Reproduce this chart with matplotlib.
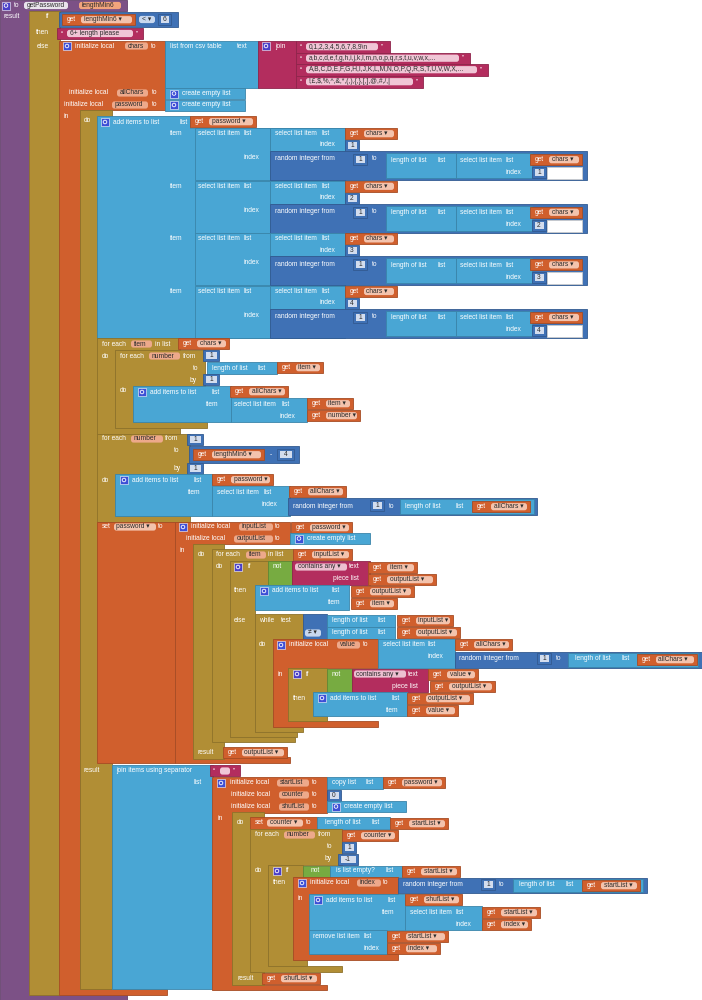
import matplotlib.pyplot as plt
import matplotlib.colors as mcolors
from matplotlib.patches import Rectangle, FancyBboxPatch, Polygon, Circle

# text shown on the blocks
proc_name = "getPassword"
param = "lengthMin6"
min_length = "6"
short_msg = "6+ length please"
csv_rows = ["0,1,2,3,4,5,6,7,8,9\\n",
            "a,b,c,d,e,f,g,h,i,j,k,l,m,n,o,p,q,r,s,t,u,v,w,x,...",
            "A,B,C,D,E,F,G,H,I,J,K,L,M,N,O,P,Q,R,S,T,U,V,W,X,...",
            "!,£,$,%,^,&,*,(,),{,},[,],@,#,/,|"]
char_groups = ["1", "2", "3", "4"]
extra_count = "4"
step_down = "-1"

# block colours
PURPLE = "#7c5186"
OLIVE = "#b18e35"
ORANGE = "#d05f2d"
LBLUE = "#49a6d4"
DBLUE = "#3f71b5"
MAGENTA = "#b32d5e"
GREEN = "#77ab41"
NAMEPILL = "#eda98b"
GETPILL = "#f3c3ad"
NUMPILL = "#d3ddee"
CMP = "#c9d8ee"
STRPILL = "#f0c6d6"
CONTPILL = "#ecbfd0"

FS = 4.8
FONT = ["Liberation Sans", "DejaVu Sans"]

fig = plt.figure(figsize=(7.02, 10), dpi=100)
ax = fig.add_axes([0, 0, 1, 1])
ax.set_xlim(0, 702)
ax.set_ylim(1000, 0)
ax.axis("off")


def dark(c, f=0.8):
    r, g, b = mcolors.to_rgb(c)
    return (r * f, g * f, b * f)


def box(x0, y0, x1, y1, c, lw=0.6):
    ax.add_patch(Rectangle((x0, y0), x1 - x0, y1 - y0, fc=c, ec=dark(c), lw=lw))


def cblock(x0, y0, xt, yt, xc, yb, xb, y1, c):
    pts = [(x0, y0), (xt, y0), (xt, yt), (xc, yt), (xc, yb), (xb, yb), (xb, y1), (x0, y1)]
    ax.add_patch(Polygon(pts, closed=True, fc=c, ec=dark(c), lw=0.6))


def txt(x, y, s, c="white", ha="left"):
    ax.text(x, y, s, fontsize=FS, color=c, va="center", ha=ha, family=FONT)


def pill(x0, x1, y, s, fc=NAMEPILL, tc="#2b2b2b"):
    ax.add_patch(FancyBboxPatch((x0, y - 3.6), x1 - x0, 7.2,
                                boxstyle="round,pad=0,rounding_size=2.5", fc=fc, ec="none"))
    if s:
        txt(x0 + 2.5, y, s, c=tc)


def gear(x, y, c="#3d4fd6"):
    ax.add_patch(Rectangle((x, y - 4), 8, 8, fc=c, ec="white", lw=0.4))
    ax.add_patch(Circle((x + 4, y), 1.8, fc="none", ec="white", lw=0.6))


def get(x0, y0, x1, name):
    box(x0, y0, x1, y0 + 11, ORANGE)
    txt(x0 + 5, y0 + 5.7, "get")
    pill(x0 + 19, x1 - 3, y0 + 5.7, name + " \u25be", GETPILL)


def num(x0, y0, s, w=14):
    box(x0, y0, x0 + w, y0 + 11, DBLUE)
    ax.add_patch(Rectangle((x0 + 2.5, y0 + 2), w - 5, 7, fc=NUMPILL, ec="none"))
    txt(x0 + w / 2, y0 + 5.7, s, c="#2b2b2b", ha="center")


def cel(x0, y0, x1):
    box(x0, y0, x1, y0 + 11, LBLUE)
    gear(x0 + 5, y0 + 5.5)
    txt(x0 + 17, y0 + 5.5, "create empty list")


# procedure
cblock(0, 0, 127, 11, 30, 994, 127, 1000, PURPLE)
gear(2, 5.5, "#4a3fc8")
txt(14, 5.5, "to")
pill(24, 68, 5.5, proc_name, "#e9e4ec")
pill(79, 121, 5.5, param, "#f2a47c")
txt(4, 17, "result")

# if / then / else
box(29, 11, 60, 995, OLIVE)
txt(45, 17, "if")
txt(36, 33, "then")
txt(37, 46, "else")
box(59, 12, 178, 27, DBLUE)
get(62, 14, 135, param)
pill(139, 155, 19.5, "< \u25be", CMP)
num(158, 14, min_length, w=13)
box(57, 28, 143, 39, MAGENTA)
txt(61, 33.5, "\u201c")
pill(67, 133, 33.5, short_msg, STRPILL)
txt(136, 33.5, "\u201d")

# initialize local chars / allChars / password
cblock(59, 41, 165, 110, 80, 989, 167, 995, ORANGE)
gear(63, 46)
txt(75, 46, "initialize local")
pill(125, 148, 46, "chars")
txt(151, 46, "to")
box(165, 41, 258, 88, LBLUE)
txt(170, 46, "list from csv table")
txt(237, 46, "text")
box(258, 41, 296, 88, MAGENTA)
gear(262, 46, "#4a3fc8")
txt(275, 46, "join")
row_tops = [41, 52.5, 64, 76]
row_right = [390, 470, 488, 423]
pill_right = [378, 459, 477, 413]
for i, s in enumerate(csv_rows):
    y0 = row_tops[i]
    box(296, y0, row_right[i], y0 + 11.5, MAGENTA)
    txt(300, y0 + 5.7, "\u201c")
    pill(306, pill_right[i], y0 + 5.7, s, STRPILL)
    txt(pill_right[i] + 3, y0 + 5.7, "\u201d")
txt(69, 93, "initialize local")
pill(117, 148, 93, "allChars")
txt(152, 93, "to")
cel(165, 88, 245)
txt(64, 105, "initialize local")
pill(112, 148, 105, "password")
txt(152, 105, "to")
cel(165, 99.5, 245)
txt(64, 116, "in")

# do / result
box(80, 110, 112, 989, OLIVE)
txt(84, 121, "do")
txt(84, 771, "result")

# add items to list password (four random characters)
ax.add_patch(Polygon([(97, 116), (190, 116), (190, 128), (345, 128), (345, 338), (97, 338)],
                     closed=True, fc=LBLUE, ec=dark(LBLUE), lw=0.6))
gear(101, 122)
txt(113, 122, "add items to list")
txt(180, 122, "list")
get(190, 116, 256, "password")
for k, g in enumerate(char_groups):
    y0 = 128 + 52.6 * k
    txt(170, y0 + 5.5, "item")
    box(195, y0, 270, y0 + 52, LBLUE)
    txt(198, y0 + 5.5, "select list item")
    txt(244, y0 + 5.5, "list")
    txt(243, y0 + 29.5, "index")
    box(270, y0, 345, y0 + 23, LBLUE)
    txt(275, y0 + 5.5, "select list item")
    txt(321, y0 + 5.5, "list")
    txt(320, y0 + 17, "index")
    get(345, y0, 397, "chars")
    num(345, y0 + 12, g)
    box(270, y0 + 23, 587, y0 + 52, DBLUE)
    txt(275, y0 + 31, "random integer from")
    num(353, y0 + 26, "1")
    txt(372, y0 + 31, "to")
    box(386, y0 + 25, 456, y0 + 50, LBLUE)
    txt(391, y0 + 32, "length of list")
    txt(437, y0 + 32, "list")
    box(456, y0 + 25, 532, y0 + 50, LBLUE)
    txt(460, y0 + 32, "select list item")
    txt(506, y0 + 32, "list")
    txt(505, y0 + 44, "index")
    get(530, y0 + 26, 582, "chars")
    box(547, y0 + 39, 582, y0 + 51, "white")
    num(532, y0 + 39, g)

# for each item in chars
cblock(97, 338, 180, 350, 115, 428, 180, 434, OLIVE)
txt(102, 344, "for each")
pill(131, 152, 344, "item")
txt(155, 344, "in list")
get(178, 338, 229, "chars")
txt(102, 356, "do")
cblock(115, 350, 205, 386, 133, 422, 207, 428, OLIVE)
txt(120, 356, "for each")
pill(149, 180, 356, "number")
txt(183, 356, "from")
num(203, 350, "1", w=16)
txt(193, 368, "to")
box(207, 362, 277, 374, LBLUE)
txt(212, 368, "length of list")
txt(258, 368, "list")
get(277, 362, 323, "item")
txt(190, 380, "by")
num(203, 374, "1", w=16)
txt(120, 391, "do")
box(133, 386, 231, 422, LBLUE)
gear(138, 392)
txt(150, 392, "add items to list")
txt(212, 392, "list")
get(230, 386, 288, "allChars")
txt(206, 404, "item")
box(231, 398, 307, 422, LBLUE)
txt(234, 404, "select list item")
txt(281, 404, "list")
txt(279, 416, "index")
get(307, 398, 353, "item")
get(307, 410, 360, "number")

# for each number 1 .. lengthMin6 - 4
cblock(97, 434, 190, 474, 115, 516, 190, 522, OLIVE)
txt(102, 439, "for each")
pill(131, 163, 439, "number")
txt(165, 439, "from")
num(187, 434, "1", w=16)
txt(174, 451, "to")
box(189, 446, 299, 463, DBLUE)
get(193, 449, 264, param)
txt(270, 455, "-")
num(277, 449, extra_count, w=17)
txt(174, 468, "by")
num(187, 463, "1", w=16)
txt(102, 480, "do")
box(115, 474, 212, 516, LBLUE)
gear(120, 480)
txt(132, 480, "add items to list")
txt(193, 480, "list")
get(212, 474, 273, "password")
txt(188, 492, "item")
box(212, 486, 290, 516, LBLUE)
txt(217, 492, "select list item")
txt(263, 492, "list")
txt(261, 504, "index")
get(289, 486, 346, "allChars")
box(288, 498, 537, 515, DBLUE)
txt(293, 506, "random integer from")
num(370, 500, "1")
txt(389, 506, "to")
box(400, 499, 534, 514, LBLUE)
txt(405, 506, "length of list")
txt(455, 506, "list")
get(472, 501, 530, "allChars")

# set password to (remove duplicates)
box(97, 522, 175, 763, ORANGE)
txt(102, 527, "set")
pill(114, 156, 527, "password \u25be", GETPILL)
txt(158, 527, "to")
cblock(175, 522, 290, 544, 193, 757, 290, 763, ORANGE)
gear(179, 527)
txt(191, 527, "initialize local")
pill(239, 273, 527, "inputList")
txt(275, 527, "to")
get(291, 522, 352, "password")
txt(186, 539, "initialize local")
pill(234, 273, 539, "outputList")
txt(275, 539, "to")
cel(290, 533, 370)
txt(179, 550, "in")
box(193, 544, 224, 759, OLIVE)
txt(198, 555, "do")
txt(198, 752, "result")
get(223, 747, 287, "outputList")
cblock(212, 549, 293, 561, 230, 737, 295, 742, OLIVE)
txt(216, 555, "for each")
pill(246, 266, 555, "item")
txt(268, 555, "in list")
get(293, 549, 352, "inputList")
txt(216, 567, "do")
cblock(230, 561, 268, 585, 255, 732, 297, 737, OLIVE)
gear(234, 567, "#4a3fc8")
txt(247, 567, "if")
txt(234, 590, "then")
txt(234, 620, "else")
box(268, 561, 292, 585, GREEN)
txt(273, 567, "not")
box(292, 561, 370, 585, MAGENTA)
pill(295, 347, 567, "contains any \u25be", CONTPILL)
txt(349, 567, "text")
txt(333, 579, "piece list")
get(368, 562, 417, "item")
get(368, 574, 436, "outputList")
box(255, 585, 349, 610, LBLUE)
gear(260, 591)
txt(272, 591, "add items to list")
txt(332, 591, "list")
get(351, 586, 414, "outputList")
txt(327, 603, "item")
get(351, 598, 397, "item")
cblock(255, 614, 303, 639, 273, 727, 303, 732, OLIVE)
txt(259, 620, "while")
txt(281, 620, "test")
txt(259, 645, "do")
box(303, 614, 327, 639, DBLUE)
pill(305, 321, 633, "\u2260 \u25be", CMP)
box(327, 615, 395, 627, LBLUE)
txt(332, 621, "length of list")
txt(378, 621, "list")
get(397, 615, 453, "inputList")
box(327, 627, 395, 639, LBLUE)
txt(332, 633, "length of list")
txt(378, 633, "list")
get(397, 627, 460, "outputList")
cblock(273, 639, 378, 668, 288, 721, 378, 727, ORANGE)
gear(277, 645)
txt(289, 645, "initialize local")
pill(337, 360, 645, "value")
txt(363, 645, "to")
box(378, 639, 455, 668, LBLUE)
txt(383, 645, "select list item")
txt(428, 645, "list")
txt(427, 657, "index")
get(455, 639, 512, "allChars")
box(455, 652, 702, 668, DBLUE)
txt(459, 659, "random integer from")
num(537, 653, "1")
txt(556, 659, "to")
box(568, 653, 698, 667, LBLUE)
txt(575, 659, "length of list")
txt(621, 659, "list")
get(637, 654, 697, "allChars")
txt(277, 674, "in")
cblock(288, 668, 327, 692, 313, 716, 327, 721, OLIVE)
gear(293, 674, "#4a3fc8")
txt(305, 674, "if")
txt(293, 698, "then")
box(327, 669, 352, 692, GREEN)
txt(332, 674, "not")
box(352, 669, 428, 692, MAGENTA)
pill(354, 406, 674, "contains any \u25be", CONTPILL)
txt(408, 674, "text")
txt(392, 686, "piece list")
get(428, 669, 478, "value")
get(430, 681, 495, "outputList")
box(313, 692, 407, 716, LBLUE)
gear(318, 698)
txt(330, 698, "add items to list")
txt(392, 698, "list")
get(407, 693, 473, "outputList")
txt(386, 710, "item")
get(407, 705, 458, "value")

# result: join items using separator (shuffled list)
box(112, 765, 213, 989, LBLUE)
txt(116, 771, "join items using separator")
box(210, 765, 240, 776, MAGENTA)
txt(213, 771, "\u201c")
pill(220, 230, 771, "", STRPILL)
txt(233, 771, "\u201d")
txt(194, 783, "list")
cblock(212, 777, 327, 813, 232, 985, 327, 990, ORANGE)
gear(217, 783)
txt(230, 783, "initialize local")
pill(277, 309, 783, "startList")
txt(312, 783, "to")
box(327, 777, 383, 789, LBLUE)
txt(332, 783, "copy list")
txt(365, 783, "list")
get(383, 777, 445, "password")
txt(231, 795, "initialize local")
pill(279, 309, 795, "counter")
txt(312, 795, "to")
num(327, 790, "0")
txt(231, 807, "initialize local")
pill(279, 309, 807, "shufList")
txt(312, 807, "to")
cel(327, 801, 406)
txt(217, 818, "in")
box(232, 812, 264, 985, OLIVE)
txt(237, 823, "do")
txt(237, 979, "result")
get(262, 973, 320, "shufList")
box(250, 817, 318, 829, ORANGE)
txt(255, 823, "set")
pill(267, 303, 823, "counter \u25be", GETPILL)
txt(306, 823, "to")
box(317, 817, 390, 829, LBLUE)
txt(325, 823, "length of list")
txt(372, 823, "list")
get(390, 818, 448, "startList")
cblock(250, 829, 342, 865, 268, 966, 342, 972, OLIVE)
txt(255, 835, "for each")
pill(284, 315, 835, "number")
txt(318, 835, "from")
get(342, 830, 398, "counter")
txt(327, 847, "to")
num(342, 842, "1")
txt(325, 859, "by")
num(338, 854, step_down, w=20)
txt(255, 870, "do")
cblock(268, 865, 303, 877, 293, 960, 307, 966, OLIVE)
gear(273, 871, "#4a3fc8")
txt(285, 871, "if")
txt(273, 883, "then")
box(303, 866, 330, 877, GREEN)
txt(311, 871, "not")
box(330, 866, 402, 877, LBLUE)
txt(336, 871, "is list empty?")
txt(385, 871, "list")
get(402, 866, 460, "startList")
cblock(293, 877, 398, 894, 310, 954, 398, 960, ORANGE)
gear(298, 883)
txt(310, 883, "initialize local")
pill(357, 381, 883, "index")
txt(383, 883, "to")
box(398, 878, 647, 893, DBLUE)
txt(403, 885, "random integer from")
num(481, 879, "1")
txt(499, 885, "to")
box(513, 879, 643, 892, LBLUE)
txt(519, 885, "length of list")
txt(565, 885, "list")
get(582, 880, 640, "startList")
txt(297, 898, "in")
box(309, 894, 405, 930, LBLUE)
gear(314, 900)
txt(326, 900, "add items to list")
txt(387, 900, "list")
get(405, 894, 462, "shufList")
txt(382, 912, "item")
box(405, 906, 482, 930, LBLUE)
txt(410, 912, "select list item")
txt(456, 912, "list")
txt(455, 924, "index")
get(482, 907, 540, "startList")
get(482, 919, 531, "index")
box(309, 930, 387, 954, LBLUE)
txt(313, 936, "remove list item")
txt(364, 936, "list")
txt(364, 948, "index")
get(387, 931, 448, "startList")
get(387, 943, 440, "index")

fig.savefig("out.png", dpi=100)
